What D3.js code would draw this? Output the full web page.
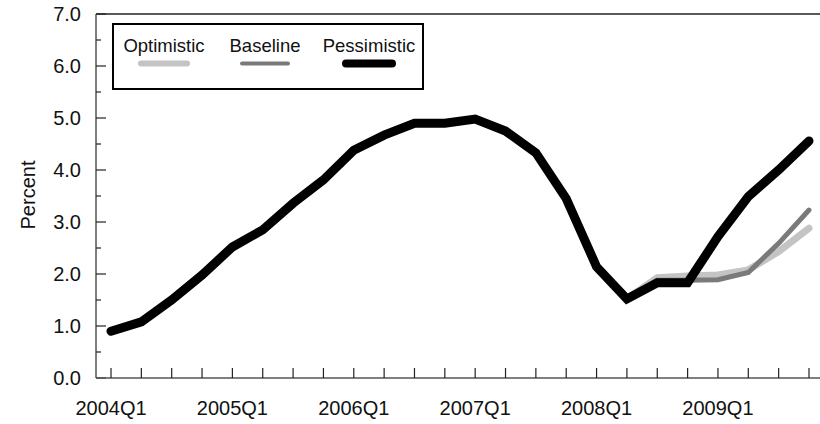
<!DOCTYPE html>
<html>
<head>
<meta charset="utf-8">
<script src="https://cdn.jsdelivr.net/npm/d3@7"></script>
<style>
  html, body { margin: 0; padding: 0; background: #fff; }
  svg { display: block; font-family: "Liberation Sans", Arial, Helvetica, sans-serif; }
</style>
</head>
<body>
<svg id="chart" width="820" height="424"></svg>
<script>
// ---- data ----
const quarters = [
  "2004Q1","2004Q2","2004Q3","2004Q4",
  "2005Q1","2005Q2","2005Q3","2005Q4",
  "2006Q1","2006Q2","2006Q3","2006Q4",
  "2007Q1","2007Q2","2007Q3","2007Q4",
  "2008Q1","2008Q2","2008Q3","2008Q4",
  "2009Q1","2009Q2","2009Q3","2009Q4"
];
const pessimistic = [0.90, 1.08, 1.50, 1.98, 2.52, 2.85, 3.36, 3.81, 4.38, 4.67, 4.90, 4.90,
                     4.98, 4.75, 4.33, 3.45, 2.14, 1.52, 1.83, 1.83, 2.72, 3.49, 4.00, 4.56];
const baselineQuarters = ["2008Q2","2008Q3","2008Q4","2009Q1","2009Q2","2009Q3","2009Q4"];
const baseline   = [1.52, 1.88, 1.88, 1.89, 2.03, 2.59, 3.23];
const optimistic = [1.52, 1.93, 1.96, 1.98, 2.08, 2.43, 2.88];
const yTicks = [0, 1, 2, 3, 4, 5, 6, 7];
const yMinorTicks = [0.5, 1.5, 2.5, 3.5, 4.5, 5.5, 6.5];
const xLabelTicks = ["2004Q1","2005Q1","2006Q1","2007Q1","2008Q1","2009Q1"];
const seriesNames = ["Optimistic", "Baseline", "Pessimistic"];

// ---- layout ----
const svg = d3.select("#chart");
const pLeft = 96, pRight = 820, pTop = 14, pBottom = 378;
const idx = q => quarters.indexOf(q);
const x = d3.scaleLinear().domain([0, 23]).range([111, 809]);
const y = d3.scaleLinear().domain([0, 7]).range([pBottom, pTop]);

// top frame line
svg.append("line").attr("x1", pLeft).attr("x2", pRight).attr("y1", pTop).attr("y2", pTop)
  .attr("stroke", "#222").attr("stroke-width", 1.5);

// y axis
const yAxis = svg.append("g").attr("transform", `translate(${pLeft},0)`);
yAxis.append("line").attr("x1", 0).attr("x2", 0).attr("y1", pTop).attr("y2", pBottom)
  .attr("stroke", "#555").attr("stroke-width", 1.5);
yAxis.selectAll(".maj").data(yTicks).join("line").attr("class", "maj")
  .attr("x1", 0).attr("x2", 10).attr("y1", d => y(d)).attr("y2", d => y(d))
  .attr("stroke", "#222").attr("stroke-width", 1.2);
yAxis.selectAll(".min").data(yMinorTicks).join("line").attr("class", "min")
  .attr("x1", 0).attr("x2", 5).attr("y1", d => y(d)).attr("y2", d => y(d))
  .attr("stroke", "#222").attr("stroke-width", 1.2);
svg.selectAll(".ylab").data(yTicks).join("text").attr("class", "ylab")
  .attr("x", 81).attr("y", d => y(d)).attr("dy", "0.36em")
  .attr("text-anchor", "end").attr("font-size", 20).attr("fill", "#111")
  .text(d => d.toFixed(1));

// x axis
const xAxis = svg.append("g");
xAxis.append("line").attr("x1", pLeft).attr("x2", pRight).attr("y1", pBottom).attr("y2", pBottom)
  .attr("stroke", "#555").attr("stroke-width", 1.5);
xAxis.selectAll(".xt").data(quarters).join("line").attr("class", "xt")
  .attr("x1", (d, i) => x(i)).attr("x2", (d, i) => x(i))
  .attr("y1", pBottom).attr("y2", pBottom - 10)
  .attr("stroke", "#222").attr("stroke-width", 1.2);
svg.selectAll(".xlab").data(xLabelTicks).join("text").attr("class", "xlab")
  .attr("x", d => x(idx(d))).attr("y", 415)
  .attr("text-anchor", "middle").attr("font-size", 20).attr("fill", "#111")
  .text(d => d);

// y title
svg.append("text").attr("transform", "translate(35,195) rotate(-90)")
  .attr("text-anchor", "middle").attr("font-size", 20).attr("fill", "#111")
  .text("Percent");

// lines
const lineGen = d3.line().x(d => x(idx(d.q))).y(d => y(d.v));
const styles = {
  Optimistic: { color: "#c4c4c4", width: 7 },
  Baseline: { color: "#7a7a7a", width: 5 },
  Pessimistic: { color: "#000", width: 9 }
};
const seriesData = {
  Optimistic: baselineQuarters.map((q, i) => ({ q, v: optimistic[i] })),
  Baseline: baselineQuarters.map((q, i) => ({ q, v: baseline[i] })),
  Pessimistic: quarters.map((q, i) => ({ q, v: pessimistic[i] }))
};
seriesNames.forEach(name => {
  svg.append("path").datum(seriesData[name])
    .attr("d", lineGen).attr("fill", "none")
    .attr("stroke", styles[name].color).attr("stroke-width", styles[name].width)
    .attr("stroke-linejoin", "miter").attr("stroke-linecap", "round");
});

// legend
const lg = svg.append("g");
lg.append("rect").attr("x", 113).attr("y", 24).attr("width", 310).attr("height", 65)
  .attr("fill", "#fff").attr("stroke", "#000").attr("stroke-width", 2);
const legendCx = [164, 265, 369];
seriesNames.forEach((name, i) => {
  lg.append("text").attr("x", legendCx[i]).attr("y", 52)
    .attr("text-anchor", "middle").attr("font-size", 18.5).attr("fill", "#111").text(name);
  lg.append("line").attr("x1", legendCx[i] - 23).attr("x2", legendCx[i] + 23)
    .attr("y1", 63.5).attr("y2", 63.5)
    .attr("stroke", styles[name].color).attr("stroke-width", styles[name].width - 1)
    .attr("stroke-linecap", "round");
});
</script>
</body>
</html>
